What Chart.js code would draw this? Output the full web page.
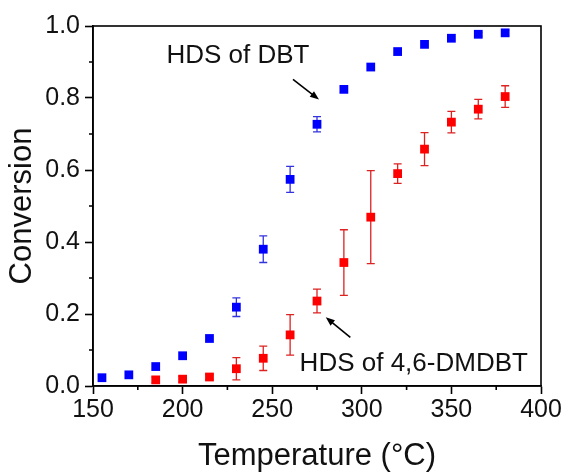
<!DOCTYPE html>
<html>
<head>
<meta charset="utf-8">
<script src="https://cdn.jsdelivr.net/npm/chart.js@4.4.1/dist/chart.umd.min.js"></script>
<style>
  html, body { margin: 0; padding: 0; background: #fff; }
  canvas { display: block; }
</style>
</head>
<body>
<canvas id="conversionChart" width="565" height="472"></canvas>
<script>
// HDS of DBT
var dbtTemps = [155, 170, 185, 200, 215, 230, 245, 260, 275, 290, 305, 320, 335, 350, 365, 380];
var dbtConv  = [0.023, 0.031, 0.054, 0.084, 0.132, 0.219, 0.380, 0.574, 0.727, 0.824, 0.886, 0.929, 0.949, 0.966, 0.977, 0.981];
var dbtErr   = [0, 0, 0, 0, 0, 0.026, 0.037, 0.036, 0.021, 0.008, 0, 0, 0, 0, 0.005, 0.007];

// HDS of 4,6-DMDBT
var dmdbtTemps = [185, 200, 215, 230, 245, 260, 275, 290, 305, 320, 335, 350, 365, 380];
var dmdbtConv  = [0.017, 0.019, 0.025, 0.048, 0.077, 0.142, 0.236, 0.343, 0.469, 0.590, 0.658, 0.733, 0.769, 0.804];
var dmdbtErr   = [0.008, 0.008, 0.007, 0.031, 0.034, 0.056, 0.033, 0.091, 0.129, 0.027, 0.046, 0.030, 0.027, 0.030];

var xTicks = [150, 200, 250, 300, 350, 400];
var xMinor = [175, 225, 275, 325, 375];
var yTicks = [0, 0.2, 0.4, 0.6, 0.8, 1.0];
var yMinor = [0.1, 0.3, 0.5, 0.7, 0.9];

var FONT = '"Liberation Sans", Arial, sans-serif';

// annotation placement (data coordinates)
var notes = [
  { text: 'HDS of DBT', x: 191, y: 0.896, from: [261.6, 0.852], to: [276.1, 0.796] },
  { text: 'HDS of 4,6-DMDBT', x: 265.3, y: 0.042, from: [293.6, 0.135], to: [279.9, 0.191] }
];

function points(xs, ys, es) {
  return xs.map(function (x, i) { return { x: x, y: ys[i], err: es[i] }; });
}

const errorBars = {
  id: 'errorBars',
  beforeDatasetsDraw(chart) {
    const ctx = chart.ctx, xs = chart.scales.x, ys = chart.scales.y;
    chart.data.datasets.forEach(function (ds) {
      ctx.save();
      ctx.strokeStyle = ds.errColor;
      ctx.lineWidth = 1.3;
      ds.data.forEach(function (p) {
        if (!p.err) return;
        const px = xs.getPixelForValue(p.x);
        const top = ys.getPixelForValue(p.y + p.err);
        const bot = ys.getPixelForValue(p.y - p.err);
        ctx.beginPath();
        ctx.moveTo(px, top); ctx.lineTo(px, bot);
        ctx.moveTo(px - 4, top); ctx.lineTo(px + 4, top);
        ctx.moveTo(px - 4, bot); ctx.lineTo(px + 4, bot);
        ctx.stroke();
      });
      ctx.restore();
    });
  }
};

const frameAndNotes = {
  id: 'frameAndNotes',
  afterDraw(chart) {
    const ctx = chart.ctx, a = chart.chartArea, xs = chart.scales.x, ys = chart.scales.y;
    ctx.save();
    ctx.strokeStyle = '#000';
    ctx.lineWidth = 1.6;
    ctx.strokeRect(a.left, a.top, a.right - a.left, a.bottom - a.top);

    // minor ticks
    ctx.beginPath();
    xMinor.forEach(function (v) {
      const px = xs.getPixelForValue(v);
      ctx.moveTo(px, a.bottom); ctx.lineTo(px, a.bottom + 4);
    });
    yMinor.forEach(function (v) {
      const py = ys.getPixelForValue(v);
      ctx.moveTo(a.left, py); ctx.lineTo(a.left - 4, py);
    });
    ctx.stroke();

    // labels + arrows
    ctx.fillStyle = '#111';
    ctx.font = '26px ' + FONT;
    ctx.textBaseline = 'alphabetic';
    ctx.textAlign = 'left';
    notes.forEach(function (n) {
      ctx.fillText(n.text, xs.getPixelForValue(n.x), ys.getPixelForValue(n.y));
      const x0 = xs.getPixelForValue(n.from[0]), y0 = ys.getPixelForValue(n.from[1]);
      const x1 = xs.getPixelForValue(n.to[0]), y1 = ys.getPixelForValue(n.to[1]);
      const ang = Math.atan2(y1 - y0, x1 - x0);
      ctx.beginPath();
      ctx.lineWidth = 1.6;
      ctx.moveTo(x0, y0);
      ctx.lineTo(x1 - 6 * Math.cos(ang), y1 - 6 * Math.sin(ang));
      ctx.stroke();
      ctx.beginPath();
      ctx.moveTo(x1, y1);
      ctx.lineTo(x1 - 9 * Math.cos(ang) + 3.5 * Math.sin(ang), y1 - 9 * Math.sin(ang) - 3.5 * Math.cos(ang));
      ctx.lineTo(x1 - 9 * Math.cos(ang) - 3.5 * Math.sin(ang), y1 - 9 * Math.sin(ang) + 3.5 * Math.cos(ang));
      ctx.closePath();
      ctx.fillStyle = '#000';
      ctx.fill();
      ctx.fillStyle = '#111';
    });
    ctx.restore();
  }
};

var ctx = document.getElementById('conversionChart').getContext('2d');
var myChart = new Chart(ctx, {
  type: 'scatter',
  data: {
    datasets: [{
      label: 'HDS of DBT',
      data: points(dbtTemps, dbtConv, dbtErr),
      pointStyle: 'rect',
      pointRadius: 6.2,
      pointHoverRadius: 6.2,
      backgroundColor: '#0000ff',
      borderColor: '#0000ff',
      borderWidth: 0,
      errColor: '#3333dd'
    }, {
      label: 'HDS of 4,6-DMDBT',
      data: points(dmdbtTemps, dmdbtConv, dmdbtErr),
      pointStyle: 'rect',
      pointRadius: 6.2,
      pointHoverRadius: 6.2,
      backgroundColor: '#ff0000',
      borderColor: '#ff0000',
      borderWidth: 0,
      errColor: '#dd2222'
    }]
  },
  options: {
    responsive: false,
    animation: false,
    layout: { padding: { top: 26, right: 24, bottom: 0, left: 0 } },
    plugins: { legend: { display: false }, tooltip: { enabled: false } },
    scales: {
      x: {
        type: 'linear',
        min: 150, max: 400,
        afterBuildTicks: function (s) { s.ticks = xTicks.map(function (v) { return { value: v }; }); },
        afterFit: function (s) { s.height = 86; },
        grid: { drawOnChartArea: false, drawTicks: true, tickLength: 8, tickColor: '#000', tickWidth: 1.6 },
        border: { display: true, color: '#000', width: 1.6 },
        ticks: { color: '#111', padding: 1, maxRotation: 0, font: { family: FONT, size: 25, lineHeight: 1.2 } },
        title: { display: true, text: 'Temperature (°C)', color: '#111', padding: 0, font: { family: FONT, size: 31, lineHeight: 1 } }
      },
      y: {
        type: 'linear',
        min: 0, max: 1,
        afterBuildTicks: function (s) { s.ticks = yTicks.map(function (v) { return { value: v }; }); },
        afterFit: function (s) { s.width = 93; },
        grid: { drawOnChartArea: false, drawTicks: true, tickLength: 8, tickColor: '#000', tickWidth: 1.6 },
        border: { display: true, color: '#000', width: 1.6 },
        ticks: { color: '#111', padding: 5, callback: function (v) { return v.toFixed(1); }, font: { family: FONT, size: 25, lineHeight: 1.2 } },
        title: { display: true, text: 'Conversion', color: '#111', padding: { top: 7, bottom: 0 }, font: { family: FONT, size: 31, lineHeight: 1 } }
      }
    }
  },
  plugins: [errorBars, frameAndNotes]
});
</script>
</body>
</html>
